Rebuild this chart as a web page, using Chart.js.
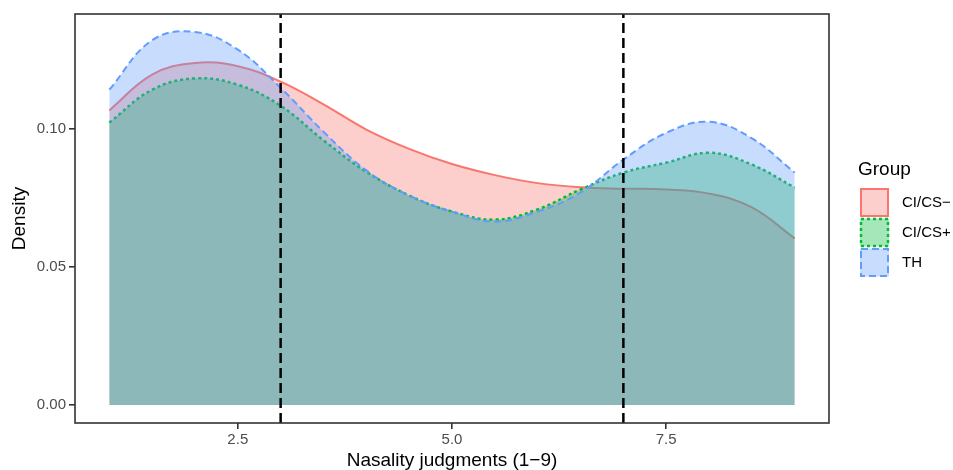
<!DOCTYPE html>
<html>
<head>
<meta charset="utf-8">
<script src="https://cdn.jsdelivr.net/npm/chart.js@4/dist/chart.umd.min.js"></script>
<style>
html,body{margin:0;padding:0;background:#fff;}
canvas{display:block;}
</style>
</head>
<body>
<canvas id="c" width="953" height="470" style="width:953px;height:470px"></canvas>
<script>
// ---- data ----
const xValues   = [1, 1.5, 2, 2.5, 3, 3.5, 4, 4.5, 5, 5.5, 6, 6.5, 7, 7.5, 8, 8.5, 9];
const ciMinus   = [0.1066, 0.1196, 0.1238, 0.1226, 0.1170, 0.1088, 0.0997, 0.0927, 0.0872, 0.0832, 0.0803, 0.0788, 0.0783, 0.0780, 0.0765, 0.0715, 0.0603];
const ciPlus    = [0.1022, 0.1141, 0.1182, 0.1159, 0.1083, 0.0958, 0.0844, 0.0758, 0.0700, 0.0671, 0.0708, 0.0780, 0.0841, 0.0877, 0.0913, 0.0870, 0.0787];
const thVals    = [0.1141, 0.1320, 0.1350, 0.1286, 0.1148, 0.0989, 0.0849, 0.0758, 0.0700, 0.0664, 0.0700, 0.0769, 0.0888, 0.0985, 0.1025, 0.0965, 0.0841];
const groupNames = ['CI/CS\u2212', 'CI/CS+', 'TH'];
const vlineX    = [3, 7];
const xTicks    = [2.5, 5.0, 7.5];
const xTickLabels = ['2.5', '5.0', '7.5'];
const yTicks    = [0.00, 0.05, 0.10];
const yTickLabels = ['0.00', '0.05', '0.10'];
const xRange = [0.6, 9.4];
const yRange = [-0.0065, 0.1415];

// ---- styles ----
const FONT = '"Liberation Sans", Arial, Helvetica, sans-serif';
const lineColors = ['#F8766D', '#00BA38', '#619CFF'];
const fillColors = ['rgba(248,118,109,0.35)', 'rgba(0,186,56,0.35)', 'rgba(97,156,250,0.35)'];
const dashes = [[], [3, 3], [7, 4]];
const widths = [2, 2.5, 2];

const seriesVals = [ciMinus, ciPlus, thVals];
const datasets = seriesVals.map((vals, i) => ({
  label: groupNames[i],
  data: xValues.map((x, j) => ({x: x, y: vals[j]})),
  borderColor: lineColors[i],
  backgroundColor: fillColors[i],
  borderWidth: widths[i],
  borderDash: dashes[i],
  borderCapStyle: 'butt',
  fill: 'origin',
  pointRadius: 0,
  tension: 0.4,
  order: 3 - i
}));
vlineX.forEach(v => {
  datasets.push({
    label: 'vline',
    data: [{x: v, y: yRange[0]}, {x: v, y: yRange[1]}],
    borderColor: '#000',
    borderWidth: 2.5,
    borderDash: [10, 5],
    fill: false,
    pointRadius: 0,
    order: 0
  });
});

const framePlugin = {
  id: 'frame',
  afterDraw(chart) {
    const {ctx, chartArea: a} = chart;
    ctx.save();
    ctx.strokeStyle = '#333333';
    ctx.lineWidth = 1.6;
    ctx.setLineDash([]);
    ctx.strokeRect(a.left, a.top, a.right - a.left, a.bottom - a.top);
    // legend
    ctx.fillStyle = '#000';
    ctx.font = '19px ' + FONT;
    ctx.textAlign = 'left';
    ctx.textBaseline = 'alphabetic';
    ctx.fillText('Group', 858, 175);
    const keyX = 860, keyW = 29, keyH = 30, keyTop = 187.5;
    groupNames.forEach((name, i) => {
      const y0 = keyTop + i * keyH;
      ctx.fillStyle = '#fff';
      ctx.fillRect(keyX, y0 + 1, keyW, keyH - 2);
      ctx.fillStyle = fillColors[i];
      ctx.fillRect(keyX, y0 + 1, keyW, keyH - 2);
      ctx.strokeStyle = lineColors[i];
      ctx.lineWidth = widths[i];
      ctx.setLineDash(dashes[i]);
      ctx.strokeRect(keyX + 1, y0 + 1.5, keyW - 2, keyH - 3);
      ctx.setLineDash([]);
      ctx.fillStyle = '#000';
      ctx.font = '15px ' + FONT;
      ctx.textBaseline = 'middle';
      ctx.fillText(name, 902, y0 + keyH / 2);
    });
    ctx.restore();
  }
};

new Chart(document.getElementById('c'), {
  type: 'line',
  data: {datasets: datasets},
  options: {
    responsive: false,
    animation: false,
    devicePixelRatio: 1,
    layout: {padding: {left: 0, right: 124, top: 14, bottom: 0}},
    plugins: {legend: {display: false}, tooltip: {enabled: false}},
    scales: {
      x: {
        type: 'linear',
        min: xRange[0], max: xRange[1],
        afterBuildTicks: s => { s.ticks = xTicks.map(v => ({value: v})); },
        afterFit: s => { s.height = 47; },
        ticks: {
          callback: (v) => { const k = xTicks.indexOf(v); return k >= 0 ? xTickLabels[k] : ''; },
          color: '#4D4D4D', font: {family: FONT, size: 15}, padding: 2, maxRotation: 0, autoSkip: false
        },
        grid: {display: true, drawOnChartArea: false, drawTicks: true, tickLength: 6, color: '#333333', lineWidth: 1.6},
        border: {display: false},
        title: {display: true, text: 'Nasality judgments (1\u22129)', color: '#000', font: {family: FONT, size: 19, lineHeight: 1}, padding: {top: 0, bottom: 0}}
      },
      y: {
        type: 'linear',
        min: yRange[0], max: yRange[1],
        afterBuildTicks: s => { s.ticks = yTicks.map(v => ({value: v})); },
        afterFit: s => { s.width = 75; },
        ticks: {
          callback: (v) => { const k = yTicks.indexOf(v); return k >= 0 ? yTickLabels[k] : ''; },
          color: '#4D4D4D', font: {family: FONT, size: 15}, padding: 3, autoSkip: false
        },
        grid: {display: true, drawOnChartArea: false, drawTicks: true, tickLength: 6, color: '#333333', lineWidth: 1.6},
        border: {display: false},
        title: {display: true, text: 'Density', color: '#000', font: {family: FONT, size: 19, lineHeight: 1}, padding: {top: 10, bottom: 0}}
      }
    }
  },
  plugins: [framePlugin]
});
</script>
</body>
</html>
